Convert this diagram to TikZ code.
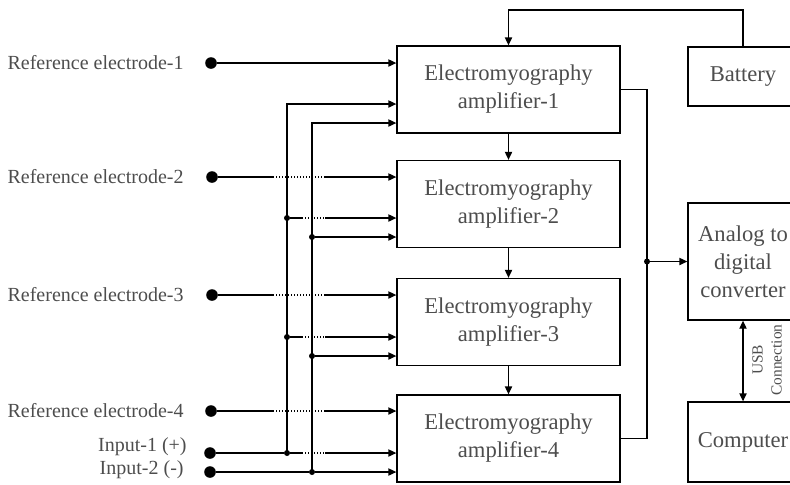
\documentclass[tikz,border=0pt]{standalone}
\usepackage{fontspec}
\setmainfont{Liberation Serif}
\definecolor{labelgray}{HTML}{4D4D4D}
\usetikzlibrary{arrows.meta,positioning,calc}

\begin{document}
\begin{tikzpicture}[
  x=0.5pt, y=-0.5pt,
  ampbox/.style={rectangle, draw, line width=0.65pt, minimum width=111.5pt,
    minimum height=43.5pt, align=center, text=labelgray,
    font=\fontsize{11.3}{14}\selectfont},
  sidebox/.style={rectangle, draw, line width=0.65pt, minimum width=55pt,
    align=center, text=labelgray, font=\fontsize{11.3}{14}\selectfont},
  elabel/.style={anchor=east, inner sep=0pt, text=labelgray,
    font=\fontsize{10}{12}\selectfont},
  bigdot/.style={circle, fill, inner sep=0pt, minimum size=5.8pt},
  smalldot/.style={circle, fill, inner sep=0pt, minimum size=3pt},
  wire/.style={line width=0.65pt},
  feed/.style={wire, -{Triangle[length=4pt,width=3.6pt]}},
  gap/.style={line width=0.65pt, dash pattern=on 0.7pt off 0.8pt}
]
  \useasboundingbox (0,0) rectangle (790,484);

  % amplifiers
  \node[ampbox] (amp1) at (508.5,89.5) {Electromyography\\amplifier-1};
  \node[ampbox] (amp2) at (508.5,204) {Electromyography\\amplifier-2};
  \node[ampbox] (amp3) at (508.5,322) {Electromyography\\amplifier-3};
  \node[ampbox] (amp4) at (508.5,438.5) {Electromyography\\amplifier-4};

  % right column
  \node[sidebox, minimum height=29.5pt] (bat) at (743,76.5) {Battery};
  \node[sidebox, minimum height=58.5pt] (adc) at (743,261.5) {Analog to\\digital\\converter};
  \node[sidebox, minimum height=40pt] (pc) at (743,442) {Computer};

  % electrodes and inputs
  \node[bigdot] (e1) at (211,63) {};
  \node[bigdot] (e2) at (212,177) {};
  \node[bigdot] (e3) at (212,295) {};
  \node[bigdot] (e4) at (211,411) {};
  \node[bigdot] (in1) at (210,453) {};
  \node[bigdot] (in2) at (210,472) {};
  \node[elabel] (l1) at (184,63) {Reference electrode-1};
  \node[elabel] (l2) at (184,177) {Reference electrode-2};
  \node[elabel] (l3) at (184,295) {Reference electrode-3};
  \node[elabel] (l4) at (184,411) {Reference electrode-4};
  \node[elabel] (l5) at (187,447) {Input-1 (+)};
  \node[elabel] (l6) at (184,470) {Input-2 (-)};

  % bus junctions
  \coordinate (p1) at (287,104);
  \coordinate (n1) at (312,123);
  \node[smalldot] (p2) at (287,218) {};
  \node[smalldot] (n2) at (312,237) {};
  \node[smalldot] (p3) at (287,337) {};
  \node[smalldot] (n3) at (312,356) {};
  \node[smalldot] (p4) at (287,453) {};
  \node[smalldot] (n4) at (312,472) {};
  \coordinate (gapA) at (273,0);
  \coordinate (gapB) at (325,0);
  \coordinate (gapC) at (302,0);

  % battery feed
  \coordinate (battop) at (0,10);
  \draw[feed] (bat.north) -- (bat.north |- battop) -| (amp1.north);

  % amplifier chain
  \draw[feed] (amp1.south) -- (amp2.north);
  \draw[feed] (amp2.south) -- (amp3.north);
  \draw[feed] (amp3.south) -- (amp4.north);

  % outputs to converter
  \coordinate (bus) at (647,0);
  \node[smalldot] (busdot) at (bus |- adc.west) {};
  \draw[wire] (amp1.east) -- (amp1.east -| bus) -- (amp4.east -| bus) -- (amp4.east);
  \draw[feed] (busdot) -- (adc.west);
  \draw[wire, {Triangle[length=4pt,width=3.6pt]}-{Triangle[length=4pt,width=3.6pt]}]
    (adc.south) -- (pc.north);
  \node[rotate=90, align=center, text=labelgray, inner sep=0pt,
    font=\fontsize{7.7}{9.5}\selectfont] (usb) at (767,360) {USB\\Connection};

  % reference electrode wires
  \draw[feed] (e1) -- (e1 -| amp1.west);
  \draw[wire] (e2) -- (e2 -| gapA);
  \draw[gap] (e2 -| gapA) -- (e2 -| gapB);
  \draw[feed] (e2 -| gapB) -- (e2 -| amp2.west);
  \draw[wire] (e3) -- (e3 -| gapA);
  \draw[gap] (e3 -| gapA) -- (e3 -| gapB);
  \draw[feed] (e3 -| gapB) -- (e3 -| amp3.west);
  \draw[wire] (e4) -- (e4 -| gapA);
  \draw[gap] (e4 -| gapA) -- (e4 -| gapB);
  \draw[feed] (e4 -| gapB) -- (e4 -| amp4.west);

  % input buses
  \draw[wire] (in1) -- (p4);
  \draw[feed] (p4.center) -- (p1) -- (p1 -| amp1.west);
  \draw[wire] (in2) -- (n4);
  \draw[feed] (n4.center) -- (n1) -- (n1 -| amp1.west);
  \draw[feed] (n4) -- (n4 -| amp4.west);
  \draw[feed] (n3) -- (n3 -| amp3.west);
  \draw[feed] (n2) -- (n2 -| amp2.west);
  \draw[wire] (p2) -- (p2 -| gapC);
  \draw[gap] (p2 -| gapC) -- (p2 -| gapB);
  \draw[feed] (p2 -| gapB) -- (p2 -| amp2.west);
  \draw[wire] (p3) -- (p3 -| gapC);
  \draw[gap] (p3 -| gapC) -- (p3 -| gapB);
  \draw[feed] (p3 -| gapB) -- (p3 -| amp3.west);
  \draw[wire] (p4) -- (p4 -| gapC);
  \draw[gap] (p4 -| gapC) -- (p4 -| gapB);
  \draw[feed] (p4 -| gapB) -- (p4 -| amp4.west);
\end{tikzpicture}
\end{document}
